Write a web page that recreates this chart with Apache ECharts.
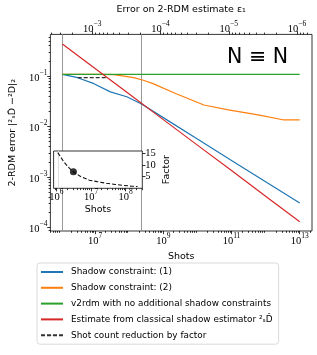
<!DOCTYPE html>
<html><head><meta charset="utf-8">
<script src="https://cdn.jsdelivr.net/npm/echarts@6/dist/echarts.min.js"></script>
<style>html,body{margin:0;padding:0;background:#fff}#c{width:317px;height:355px}</style>
</head><body><div id="c"></div>
<script>
// ---------------- data ----------------
const shotsBlue = [1.1e6, 3.1e6, 9.3e6, 2.8e7, 8.5e7, 2.3e8, 1e9, 1e10, 1e11, 1e12, 1e13];
const errBlue = [0.108, 0.0927, 0.0706, 0.0486, 0.0388, 0.0279, 0.0150, 0.00565, 0.00213, 0.000805, 0.000304];
const shotsOrange = [1.1e6, 1e7, 3.5e7, 7e7, 1.35e8, 2.6e8, 5e8, 2.3e9, 1.55e10, 8.1e10, 6e11, 3.2e12, 1e13];
const errOrange = [0.108, 0.108, 0.107, 0.100, 0.0927, 0.0824, 0.0706, 0.0451, 0.0267, 0.0213, 0.0170, 0.0136, 0.0136];
const shotsGreen = [1.1e6, 1e13];
const errGreen = [0.108, 0.108];
const shotsRed = [1.1e6, 1e7, 1e8, 1e9, 1e10, 1e11, 1e12, 1e13];
const errRed = [0.43, 0.141, 0.044, 0.0137, 0.00428, 0.00134, 0.000417, 0.00013];
const shotsDashed = [3.1e6, 2.1e7];
const errDashed = [0.0927, 0.0927];
const markerShots = [1.1e6, 2.3e8];
const insetShots = [1.1e6, 1.6e6, 2.2e6, 3.1e6, 5e6, 9e6, 1.5e7, 2.8e7, 5e7, 8.5e7, 1.4e8, 2.2e8];
const insetFactor = [15.2, 11.5, 9.0, 7.0, 5.0, 3.4, 2.8, 2.1, 1.6, 1.2, 0.9, 0.7];
const dotShots = [3.1e6];
const dotFactor = [7.0];
const shotTicks = [1e7, 1e9, 1e11, 1e13];
const errTicksTop = [1e-3, 1e-4, 1e-5, 1e-6];
const errTicksY = [1e-1, 1e-2, 1e-3, 1e-4];
const insetShotTicks = [1e6, 1e7, 1e8];
const factorTicks = [5, 10, 15];
const names = ['Shadow constraint: (1)', 'Shadow constraint: (2)',
  'v2rdm with no additional shadow constraints',
  'Estimate from classical shadow estimator \u00B2\u209BD\u0302',
  'Shot count reduction by factor'];

// ---------------- helpers ----------------
const lg = Math.log10;
const C_EPS = 0.92; // log10 shots = C_EPS - 2*log10(eps)
const pair = (xs, ys) => xs.map((x, i) => [lg(x), lg(ys[i])]);
const X0 = 5.69, X1 = 13.36, Y0 = -4.07, Y1 = -0.175;
const IX0 = 5.92, IX1 = 8.48;
function minors(a, b, map) {
  const out = [];
  for (let n = -9; n <= 14; n++) for (let k = 2; k <= 9; k++) {
    const v = map(lg(k) + n);
    if (v > Math.min(a, b) && v < Math.max(a, b)) out.push(v);
  }
  return out;
}
const id = v => v;
const epsMap = v => C_EPS - 2 * v;
const sup = e => '{b|10}{s|' + String(e).replace('-', '\u2212') + '}';
const rich = {
  b: {fontSize: 10.5, fontFamily: 'Liberation Serif', color: '#000', lineHeight: 10, padding: [4, 0, 0, 0]},
  s: {fontSize: 7.5, fontFamily: 'Liberation Serif', color: '#000', lineHeight: 8, padding: [0, 0, 6, 0]}
};
const tickBase = {lineStyle: {color: '#000', width: 0.8}};
const font = 'DejaVu Sans';

function majorAxis(extra) {
  return Object.assign({
    type: 'value', splitLine: {show: false}, axisLine: {show: false},
    axisTick: Object.assign({show: true, length: 3.2}, tickBase),
    nameTextStyle: {fontFamily: font, fontSize: 9.5, color: '#000'}
  }, extra);
}
function minorAxis(extra) {
  return Object.assign({
    type: 'value', splitLine: {show: false}, axisLine: {show: false},
    axisLabel: {show: false}
  }, extra);
}

const xMinorMain = minors(X0, X1, id);
const xMinorTop = minors(X0, X1, epsMap);
const yMinorMain = minors(Y0, Y1, id);
const xMinorInset = minors(IX0, IX1, id);

const option = {
  animation: false,
  backgroundColor: '#fff',
  title: {text: 'N \u2261 N', right: 24, top: 42,
    textStyle: {fontFamily: font, fontSize: 20.5, fontWeight: 'normal', color: '#000'}},
  grid: [
    {left: 45.5, top: 31.7, right: 5, bottom: 124, show: true, borderColor: '#000', borderWidth: 0.8, backgroundColor: 'transparent'},
    {left: 53.6, top: 151, width: 88.7, height: 37.3, show: true, borderColor: '#000', borderWidth: 0.8, backgroundColor: '#fff', z: 3}
  ],
  xAxis: [
    majorAxis({gridIndex: 0, position: 'bottom', min: X0, max: X1,
      axisTick: Object.assign({show: true, length: 3.2, customValues: shotTicks.map(lg)}, tickBase),
      axisLabel: {customValues: shotTicks.map(lg), formatter: v => sup(Math.round(v)), rich: rich, margin: 3},
      name: 'Shots', nameLocation: 'middle', nameGap: 13.5}),
    minorAxis({gridIndex: 0, position: 'bottom', min: X0, max: X1,
      axisTick: Object.assign({show: true, length: 1.8, customValues: xMinorMain}, tickBase)}),
    majorAxis({gridIndex: 0, position: 'top', min: X0, max: X1,
      axisTick: Object.assign({show: true, length: 3.2, customValues: errTicksTop.map(e => epsMap(lg(e)))}, tickBase),
      axisLabel: {customValues: errTicksTop.map(e => epsMap(lg(e))), formatter: v => sup(Math.round((C_EPS - v) / 2)), rich: rich, margin: 2},
      name: 'Error on 2-RDM estimate \u03B5\u2081', nameLocation: 'middle', nameGap: 12.5}),
    minorAxis({gridIndex: 0, position: 'top', min: X0, max: X1,
      axisTick: Object.assign({show: true, length: 1.8, customValues: xMinorTop}, tickBase)}),
    majorAxis({gridIndex: 1, position: 'bottom', min: IX0, max: IX1, z: 4,
      axisTick: Object.assign({show: true, length: 3.2, customValues: insetShotTicks.map(lg)}, tickBase),
      axisLabel: {customValues: insetShotTicks.map(lg), formatter: v => sup(Math.round(v)), rich: rich, margin: 2},
      name: 'Shots', nameLocation: 'middle', nameGap: 16}),
    minorAxis({gridIndex: 1, position: 'bottom', min: IX0, max: IX1, z: 4,
      axisTick: Object.assign({show: true, length: 1.8, customValues: xMinorInset}, tickBase)})
  ],
  yAxis: [
    majorAxis({gridIndex: 0, position: 'left', min: Y0, max: Y1,
      axisTick: Object.assign({show: true, length: 3.2, customValues: errTicksY.map(lg)}, tickBase),
      axisLabel: {customValues: errTicksY.map(lg), formatter: v => sup(Math.round(v)), rich: rich, margin: 3},
      name: '2-RDM error |\u00B2\u209BD\u0302 \u2212\u00B2D|\u2082', nameLocation: 'middle', nameGap: 31, nameRotate: 90}),
    minorAxis({gridIndex: 0, position: 'left', min: Y0, max: Y1,
      axisTick: Object.assign({show: true, length: 1.8, customValues: yMinorMain}, tickBase)}),
    majorAxis({gridIndex: 1, position: 'right', min: -0.05, max: 15.9, z: 4,
      axisTick: Object.assign({show: true, length: 3.2, customValues: factorTicks}, tickBase),
      axisLabel: {customValues: factorTicks, fontFamily: 'Liberation Serif', fontSize: 10.5, color: '#000', margin: 3},
      name: 'Factor', nameLocation: 'middle', nameGap: 19, nameRotate: 90})
  ],
  legend: {
    data: names, orient: 'vertical', left: 37, top: 263,
    padding: [4, 6, 4, 3], itemGap: 5.8, itemWidth: 22, itemHeight: 1,
    backgroundColor: '#fff', borderColor: '#d0d0d0', borderWidth: 0.8, borderRadius: 3,
    textStyle: {fontFamily: font, fontSize: 8.9, color: '#000', padding: [0, 0, 0, 3], lineHeight: 10}
  },
  series: [
    {name: names[0], type: 'line', xAxisIndex: 0, yAxisIndex: 0, data: pair(shotsBlue, errBlue), showSymbol: false, symbol: 'none', lineStyle: {color: '#1f77b4', width: 1.2}, itemStyle: {color: '#1f77b4'}},
    {name: names[1], type: 'line', xAxisIndex: 0, yAxisIndex: 0, data: pair(shotsOrange, errOrange), showSymbol: false, symbol: 'none', lineStyle: {color: '#ff7f0e', width: 1.2}, itemStyle: {color: '#ff7f0e'}},
    {name: names[2], type: 'line', xAxisIndex: 0, yAxisIndex: 0, data: pair(shotsGreen, errGreen), showSymbol: false, symbol: 'none', lineStyle: {color: '#2ca02c', width: 1.2}, itemStyle: {color: '#2ca02c'}},
    {name: names[3], type: 'line', xAxisIndex: 0, yAxisIndex: 0, data: pair(shotsRed, errRed), showSymbol: false, symbol: 'none', lineStyle: {color: '#d62728', width: 1.2}, itemStyle: {color: '#d62728'}},
    {name: names[4], type: 'line', xAxisIndex: 0, yAxisIndex: 0, data: pair(shotsDashed, errDashed), showSymbol: false, symbol: 'none', lineStyle: {color: '#333', width: 1.2, type: [4, 2]}, itemStyle: {color: '#333'}},
    {type: 'line', xAxisIndex: 0, yAxisIndex: 0, data: [], z: 1,
      markLine: {silent: true, symbol: 'none', z: 1, label: {show: false}, animation: false,
        lineStyle: {color: '#999', width: 1, type: 'solid'},
        data: markerShots.map(s => ({xAxis: lg(s)}))}},
    {type: 'line', xAxisIndex: 4, yAxisIndex: 2, data: [], z: 5,
      markLine: {silent: true, symbol: 'none', z: 5, label: {show: false}, animation: false,
        lineStyle: {color: '#ddd', width: 1, type: 'solid'},
        data: [{xAxis: lg(markerShots[0])}]}},
    {type: 'line', xAxisIndex: 4, yAxisIndex: 2, z: 6, data: insetShots.map((s, i) => [lg(s), insetFactor[i]]),
      showSymbol: false, symbol: 'none', lineStyle: {color: '#111', width: 1.1, type: [4, 2]}},
    {type: 'scatter', xAxisIndex: 4, yAxisIndex: 2, z: 7, data: dotShots.map((s, i) => [lg(s), dotFactor[i]]),
      symbolSize: 7, itemStyle: {color: '#000'}}
  ]
};
echarts.init(document.getElementById('c'), null, {renderer: 'canvas'}).setOption(option);
</script></body></html>
